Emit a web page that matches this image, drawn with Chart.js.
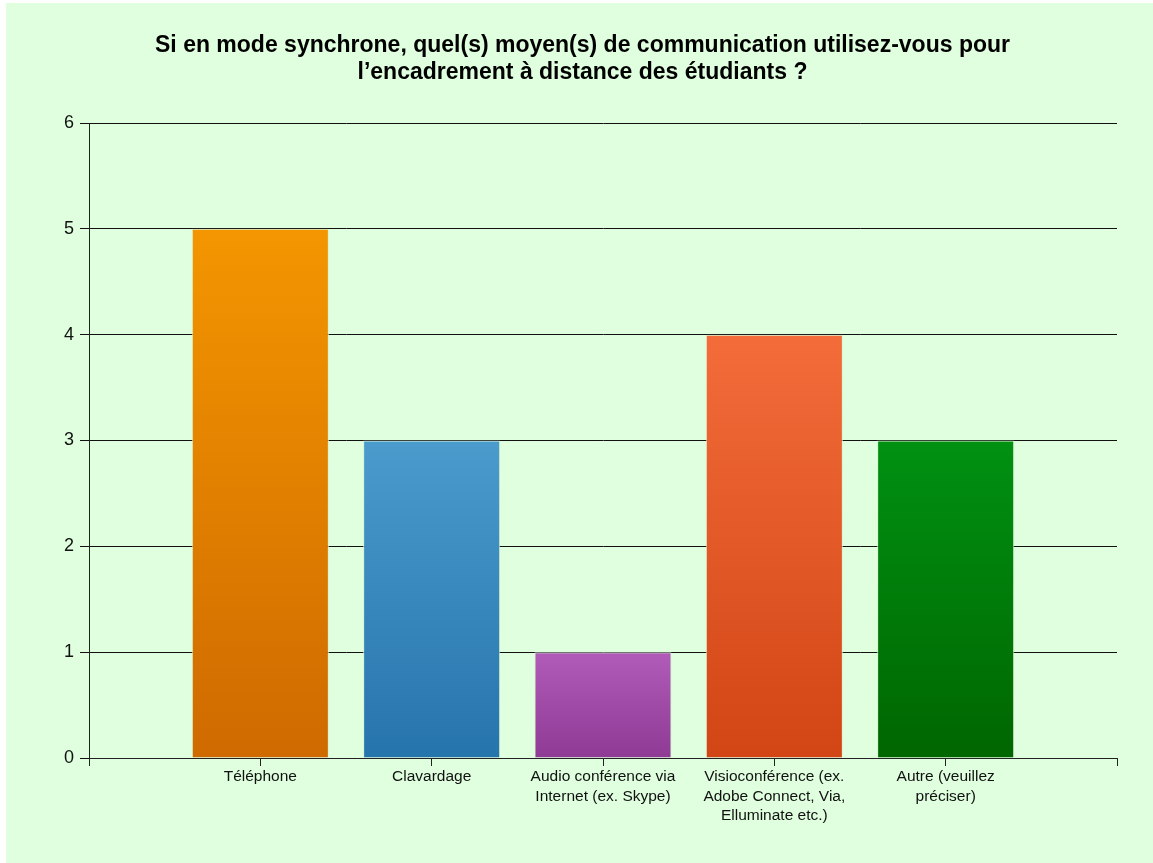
<!DOCTYPE html>
<html>
<head>
<meta charset="utf-8">
<script src="https://cdn.jsdelivr.net/npm/chart.js@4"></script>
<style>
  html, body { margin: 0; padding: 0; background: #ffffff; }
  #wrap { position: absolute; left: 6px; top: 3px; width: 1147px; height: 860px; background: #dfffdf; }
</style>
</head>
<body>
<div id="wrap"><canvas id="c" width="1147" height="860"></canvas></div>
<script>
const titleLines = [
  "Si en mode synchrone, quel(s) moyen(s) de communication utilisez-vous pour",
  "l\u2019encadrement à distance des étudiants ?"
];
const categories = [
  "",
  "Téléphone",
  "Clavardage",
  ["Audio conférence via", "Internet (ex. Skype)"],
  ["Visioconférence (ex.", "Adobe Connect, Via,", "Elluminate etc.)"],
  ["Autre (veuillez", "préciser)"],
  ""
];
const values = [null, 5, 3, 1, 4, 3, null];
const topColors = [null, "#f39600", "#4b9bcd", "#b05cb8", "#f36c3a", "#009112"];
const bottomColors = [null, "#cf6a00", "#2674ac", "#8f3a95", "#d24515", "#006600"];
const yTicks = [0, 1, 2, 3, 4, 5, 6];

const FONT = "'Liberation Sans', Arial, sans-serif";

new Chart(document.getElementById("c"), {
  type: "bar",
  data: {
    labels: categories,
    datasets: [{
      data: values,
      backgroundColor: (ctx) => {
        const i = ctx.dataIndex;
        const chart = ctx.chart;
        if (!chart.chartArea || topColors[i] == null) return topColors[i] || "transparent";
        const y = chart.scales.y;
        const g = chart.ctx.createLinearGradient(0, y.getPixelForValue(ctx.raw), 0, y.getPixelForValue(0));
        g.addColorStop(0, topColors[i]);
        g.addColorStop(1, bottomColors[i]);
        return g;
      },
      borderColor: "rgba(215,240,205,0.85)",
      borderWidth: 1,
      borderSkipped: "bottom",
      barPercentage: 0.8,
      categoryPercentage: 1.0
    }]
  },
  options: {
    responsive: false,
    devicePixelRatio: 1,
    animation: false,
    layout: { padding: { left: 42, right: 36, top: 0, bottom: 0 } },
    plugins: {
      legend: { display: false },
      tooltip: { enabled: false },
      title: {
        display: true,
        text: titleLines,
        color: "#000000",
        font: { family: FONT, size: 23, weight: "bold", lineHeight: 1.174 },
        padding: { top: 29, bottom: 37 }
      }
    },
    scales: {
      x: {
        type: "category",
        offset: false,
        grid: { offset: false, drawOnChartArea: false, drawTicks: true, tickLength: 8, color: "#222222", lineWidth: 1 },
        border: { display: true, color: "#222222", width: 1 },
        ticks: {
          autoSkip: false,
          maxRotation: 0,
          minRotation: 0,
          padding: 1,
          color: "#111111",
          font: { family: FONT, size: 15.5, lineHeight: 1.26 }
        },
        afterFit: (s) => { s.height = 105; }
      },
      y: {
        min: 0,
        max: 6,
        afterBuildTicks: (s) => { s.ticks = yTicks.map(v => ({ value: v })); },
        grid: { color: "#111111", lineWidth: 1, tickLength: 9, drawTicks: true },
        border: { display: true, color: "#222222", width: 1 },
        ticks: {
          padding: 6,
          color: "#111111",
          font: { family: FONT, size: 18 }
        },
        afterFit: (s) => { s.width = 41; }
      }
    }
  }
});
</script>
</body>
</html>
